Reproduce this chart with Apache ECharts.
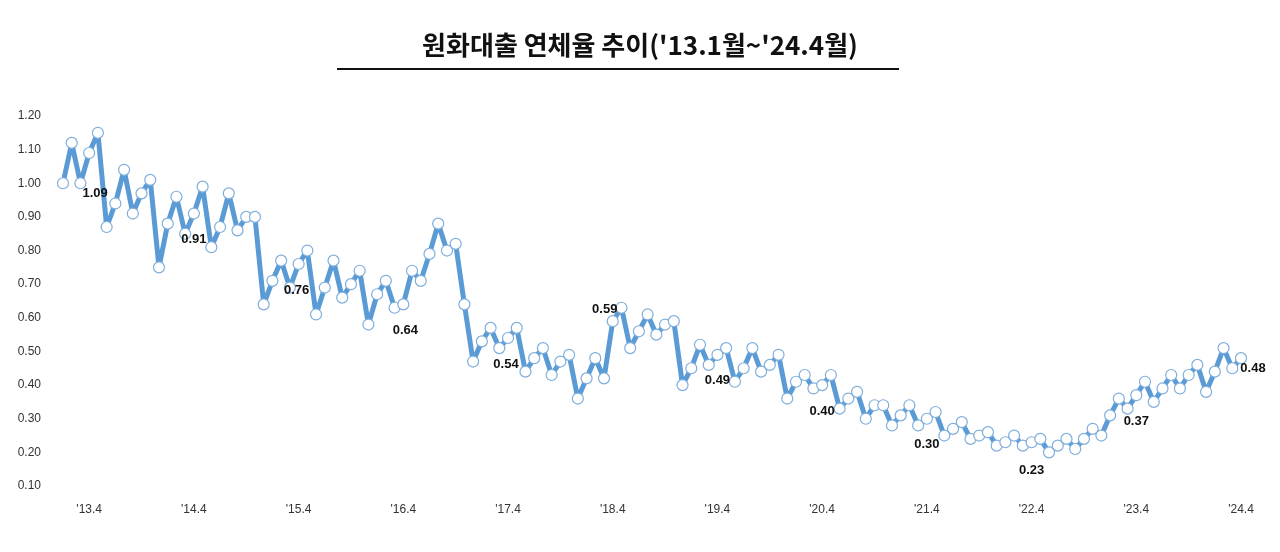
<!DOCTYPE html>
<html><head><meta charset="utf-8">
<script src="https://cdn.jsdelivr.net/npm/echarts@6/dist/echarts.min.js"></script>
<style>html,body{margin:0;padding:0;background:#fff}#c{width:1280px;height:552px}</style>
</head><body><div id="c"></div>
<script>
const years = ['13','14','15','16','17','18','19','20','21','22','23','24'];
const values = [
  1.00,1.12,1.00,1.09,1.15,0.87,0.94,1.04,0.91,0.97,1.01,0.75,
  0.88,0.96,0.85,0.91,0.99,0.81,0.87,0.97,0.86,0.90,0.90,0.64,
  0.71,0.77,0.69,0.76,0.80,0.61,0.69,0.77,0.66,0.70,0.74,0.58,
  0.67,0.71,0.63,0.64,0.74,0.71,0.79,0.88,0.80,0.82,0.64,0.47,
  0.53,0.57,0.51,0.54,0.57,0.44,0.48,0.51,0.43,0.47,0.49,0.36,
  0.42,0.48,0.42,0.59,0.63,0.51,0.56,0.61,0.55,0.58,0.59,0.40,
  0.45,0.52,0.46,0.49,0.51,0.41,0.45,0.51,0.44,0.46,0.49,0.36,
  0.41,0.43,0.39,0.40,0.43,0.33,0.36,0.38,0.30,0.34,0.34,0.28,
  0.31,0.34,0.28,0.30,0.32,0.25,0.27,0.29,0.24,0.25,0.26,0.22,
  0.23,0.25,0.22,0.23,0.24,0.20,0.22,0.24,0.21,0.24,0.27,0.25,
  0.31,0.36,0.33,0.37,0.41,0.35,0.39,0.43,0.39,0.43,0.46,0.38,
  0.44,0.51,0.45,0.48
];
const yTicks = [0.10,0.20,0.30,0.40,0.50,0.60,0.70,0.80,0.90,1.00,1.10,1.20];
const titleText = "원화대출 연체율 추이('13.1월~'24.4월)";

const categories = [];
years.forEach(y => { for (let m = 1; m <= 12; m++) categories.push("'" + y + '.' + m); });
categories.length = values.length;

const labelOffsets = {3:[6,40], 15:[0,26], 27:[-2,26], 39:[2,26], 51:[-2,26], 63:[-8,-12], 75:[0,26], 87:[0,26], 99:[0,26], 111:[0,28], 123:[0,26], 135:[12,10]};

const data = values.map((v, i) => {
  if (labelOffsets[i]) {
    return {value: v, label: {show: true, position: 'inside', offset: labelOffsets[i],
      formatter: p => p.value.toFixed(2), color: '#111', fontWeight: 'bold', fontSize: 13, fontFamily: 'Liberation Sans'}};
  }
  return v;
});

const chart = echarts.init(document.getElementById('c'));
chart.setOption({
  animation: false,
  backgroundColor: '#fff',
  graphic: [
    {type: 'text', left: 'center', top: 32, style: {text: titleText, font: 'bold 26px "Noto Sans CJK KR"', fill: '#111'}},
    {type: 'line', shape: {x1: 337, y1: 69, x2: 899, y2: 69}, style: {stroke: '#111', lineWidth: 2}}
  ],
  grid: {left: 63, right: 39, top: 116, bottom: 66},
  xAxis: {
    type: 'category', data: categories, boundaryGap: false,
    axisLine: {show: false}, axisTick: {show: false},
    axisLabel: {interval: (i) => (i - 3) % 12 === 0, margin: 18, color: '#333', fontSize: 12, fontFamily: 'Liberation Sans'}
  },
  yAxis: {
    type: 'value', min: 0.1, max: 1.2, interval: 0.1,
    splitLine: {show: false}, axisLine: {show: false}, axisTick: {show: false},
    axisLabel: {formatter: v => v.toFixed(2), color: '#333', fontSize: 12, margin: 22, fontFamily: 'Liberation Sans'}
  },
  series: [{
    type: 'line', data: data,
    lineStyle: {color: '#5B9BD5', width: 5},
    itemStyle: {color: '#fff', borderColor: '#7FAEDC', borderWidth: 1.2},
    symbol: 'circle', symbolSize: 11, showAllSymbol: true
  }]
});
</script></body></html>
